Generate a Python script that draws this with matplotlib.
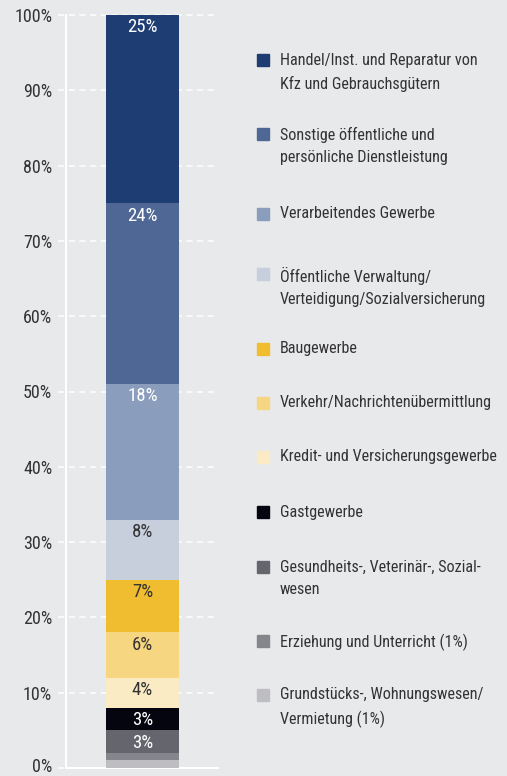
import matplotlib.pyplot as plt
from matplotlib.patches import Rectangle
from matplotlib.transforms import ScaledTranslation

# data, top of the bar first
sectors = [
    'Handel/Inst. und Reparatur von\nKfz und Gebrauchsgütern',
    'Sonstige öffentliche und\npersönliche Dienstleistung',
    'Verarbeitendes Gewerbe',
    'Öffentliche Verwaltung/\nVerteidigung/Sozialversicherung',
    'Baugewerbe',
    'Verkehr/Nachrichtenübermittlung',
    'Kredit- und Versicherungsgewerbe',
    'Gastgewerbe',
    'Gesundheits-, Veterinär-, Sozial-\nwesen',
    'Erziehung und Unterricht (1%)',
    'Grundstücks-, Wohnungswesen/\nVermietung (1%)',
]
shares = [25, 24, 18, 8, 7, 6, 4, 3, 3, 1, 1]
bar_labels = ['25%', '24%', '18%', '8%', '7%', '6%', '4%', '3%', '3%', '', '']
y_ticks = [0, 10, 20, 30, 40, 50, 60, 70, 80, 90, 100]
y_ticklabels = ['0%', '10%', '20%', '30%', '40%', '50%', '60%', '70%', '80%', '90%', '100%']

colors = ['#1e3d73', '#4f6795', '#8a9dbd', '#c8cfdc', '#f0bd30', '#f6d680',
          '#faebc4', '#05050f', '#65666d', '#85868b', '#bdbdc2']
label_colors = ['white', 'white', 'white', '#333333', '#333333', '#333333',
                '#333333', 'white', 'white', 'white', 'white']

# legend layout (pixel rows of the first text line)
legend_rows = [60, 134, 214, 274, 349, 403, 457, 512, 567, 641, 695]

BG = '#e8e9eb'
TXT = '#333333'
W, H = 507, 776
plt.rcParams['font.family'] = ['Roboto Condensed', 'DejaVu Sans']

fig = plt.figure(figsize=(W / 100, H / 100), dpi=100, facecolor=BG)
ax = fig.add_axes([66 / W, (H - 768) / H, (218 - 66) / W, (768 - 15) / H])
ax.set_facecolor(BG)
ax.set_xlim(0, 1)
ax.set_ylim(0, 100)

# dashed grid, starting a bit left of the axis like tick marks
for t in y_ticks:
    ax.plot([-0.055, 1], [t, t], color='white', lw=1.1, ls=(0, (4, 3)),
            clip_on=False, zorder=0)

bottom = 100
xc, bw = (142.5 - 66) / (218 - 66), 73 / (218 - 66)
for val, col, lab, lc in zip(shares, colors, bar_labels, label_colors):
    bottom -= val
    ax.bar(xc, val, bottom=bottom, width=bw, color=col, edgecolor='none', zorder=2)
    if lab:
        ax.annotate(lab, (xc, bottom + val), xytext=(0, -2.5), textcoords='offset points',
                    ha='center', va='top', color=lc, fontsize=13.5, zorder=3)

for s in ['top', 'right']:
    ax.spines[s].set_visible(False)
for s in ['left', 'bottom']:
    ax.spines[s].set_color('white')
    ax.spines[s].set_linewidth(1.5)
    ax.spines[s].set_zorder(1)

ax.set_xticks([])
ax.set_yticks(y_ticks)
ax.set_yticklabels(y_ticklabels)
ax.tick_params(axis='y', length=0, pad=10, labelsize=13, labelcolor=TXT)
# keep the 0% label inside the canvas
lbl0 = ax.get_yticklabels()[0]
lbl0.set_transform(lbl0.get_transform() + ScaledTranslation(0, 3 / 100, fig.dpi_scale_trans))

# legend on the right
shift = ScaledTranslation(0, 7.5 / 100, fig.dpi_scale_trans)
for name, col, row in zip(sectors, colors, legend_rows):
    fig.patches.append(Rectangle((257 / W, (H - row - 6) / H), 12 / W, 12 / H,
                                 transform=fig.transFigure, color=col, figure=fig))
    fig.text(280 / W, (H - row) / H, name, ha='left', va='top', color=TXT,
             fontsize=11.6, linespacing=1.62, transform=fig.transFigure + shift)

fig.savefig('out.png', dpi=100, facecolor=BG)
